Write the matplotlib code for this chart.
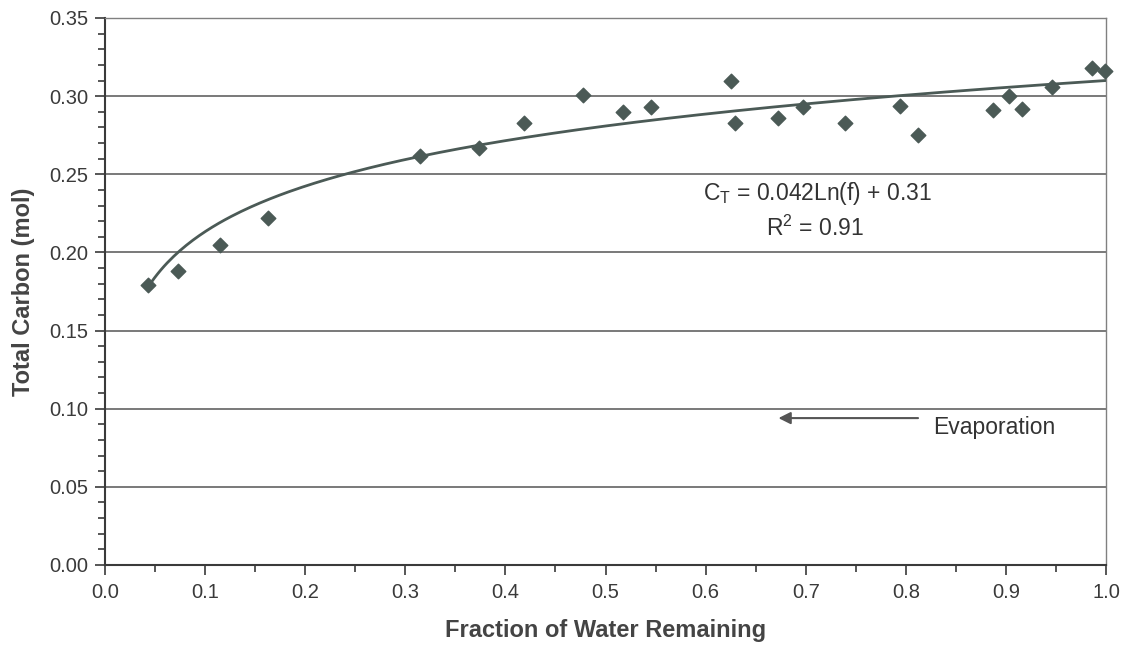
import numpy as np
import matplotlib.pyplot as plt
from matplotlib.ticker import MultipleLocator, FormatStrFormatter

plt.rcParams['font.family'] = ['Liberation Sans', 'DejaVu Sans']

# fraction of water remaining (f) and measured total carbon (mol)
frac = [0.043, 0.073, 0.115, 0.163, 0.315, 0.374, 0.419, 0.478, 0.517, 0.545,
        0.625, 0.629, 0.672, 0.697, 0.739, 0.794, 0.812, 0.887, 0.903, 0.916,
        0.946, 0.986, 0.999]
carbon = [0.179, 0.188, 0.205, 0.222, 0.262, 0.267, 0.283, 0.301, 0.290, 0.293,
          0.310, 0.283, 0.286, 0.293, 0.283, 0.294, 0.275, 0.291, 0.300, 0.292,
          0.306, 0.318, 0.316]

# log fit from the chart: C_T = a*ln(f) + b
fit_a = 0.042
fit_b = 0.31

col = '#4b5a56'

fig = plt.figure(figsize=(11.29, 6.5), dpi=100)
ax = fig.add_axes([105/1129, 1-565/650, 1001/1129, 547/650])

f = np.linspace(min(frac), 1.0, 300)
ax.plot(f, fit_a*np.log(f)+fit_b, color=col, lw=2.0, zorder=3)
ax.scatter(frac, carbon, marker='D', s=55, color=col, zorder=4, clip_on=False)

ax.set_xlim(0, 1.0)
ax.set_ylim(0, 0.35)
ax.xaxis.set_major_locator(MultipleLocator(0.1))
ax.xaxis.set_minor_locator(MultipleLocator(0.05))
ax.yaxis.set_major_locator(MultipleLocator(0.05))
ax.yaxis.set_minor_locator(MultipleLocator(0.01))
ax.xaxis.set_major_formatter(FormatStrFormatter('%.1f'))
ax.yaxis.set_major_formatter(FormatStrFormatter('%.2f'))
ax.grid(axis='y', which='major', color='#6e6e6e', lw=1.3)
ax.set_axisbelow(True)

ax.tick_params(which='both', direction='out', colors='#3a3a3a', labelsize=14.5, width=1.2)
ax.tick_params(which='major', length=7)
ax.tick_params(which='minor', length=5)
ax.tick_params(axis='x', pad=6)
ax.tick_params(axis='y', pad=5)
for s in ['left', 'bottom']:
    ax.spines[s].set_color('#3a3a3a')
    ax.spines[s].set_linewidth(1.5)
for s in ['top', 'right']:
    ax.spines[s].set_color('#808080')
    ax.spines[s].set_linewidth(1.0)

ax.set_xlabel('Fraction of Water Remaining', fontsize=17, fontweight='bold', color='#444444', labelpad=12)
ax.set_ylabel('Total Carbon (mol)', fontsize=17, fontweight='bold', color='#444444', labelpad=10)

ax.text(0.712, 0.238, r'C$_\mathregular{T}$ = 0.042Ln(f) + 0.31', fontsize=16.5, color='#333333', ha='center', va='center')
ax.text(0.709, 0.2156, r'R$^\mathregular{2}$ = 0.91', fontsize=16.5, color='#333333', ha='center', va='center')

ax.annotate('', xy=(0.67, 0.094), xytext=(0.815, 0.094),
            arrowprops=dict(arrowstyle='-|>', color='#555555', lw=1.5, mutation_scale=18))
ax.text(0.827, 0.0877, 'Evaporation', fontsize=16.5, color='#333333', ha='left', va='center')

fig.savefig('out.png', dpi=100)
